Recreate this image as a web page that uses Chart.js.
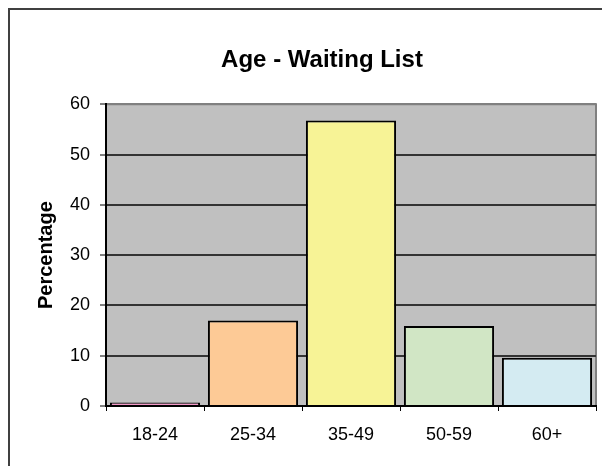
<!DOCTYPE html>
<html>
<head>
<meta charset="utf-8">
<script src="https://cdn.jsdelivr.net/npm/chart.js@4/dist/chart.umd.min.js"></script>
<style>
  html, body { margin: 0; padding: 0; background: #fff; }
  #wrap { width: 602px; height: 466px; }
</style>
</head>
<body>
<div id="wrap"><canvas id="chart" width="602" height="466"></canvas></div>
<script>
// Age groups on the waiting list
const categories = ['18-24', '25-34', '35-49', '50-59', '60+'];
// percentage of waiting list in each group
const percentages = [0.7, 17, 56.8, 15.9, 9.6];
const barColors = ['#f49ac8', '#fdca96', '#f7f396', '#d1e6c5', '#d4ebf2'];
const yTicks = [0, 10, 20, 30, 40, 50, 60];

const FONT = '"Liberation Sans", Arial, sans-serif';

// grey plot area + outer frame, like the old spreadsheet chart
const backdrop = {
  id: 'backdrop',
  beforeDraw(chart) {
    const { ctx, chartArea: a } = chart;
    ctx.save();
    ctx.strokeStyle = '#404040';
    ctx.lineWidth = 2;
    ctx.strokeRect(9, 9, 800, 700);
    ctx.fillStyle = '#c0c0c0';
    ctx.fillRect(a.left, a.top, a.right - a.left, a.bottom - a.top);
    ctx.strokeStyle = '#808080';
    ctx.lineWidth = 2;
    ctx.beginPath();
    ctx.moveTo(a.left, a.top);
    ctx.lineTo(a.right, a.top);
    ctx.lineTo(a.right, a.bottom);
    ctx.stroke();
    ctx.restore();
  }
};

const config = {
  type: 'bar',
  data: {
    labels: categories,
    datasets: [{
      label: 'Percentage',
      data: percentages,
      backgroundColor: barColors,
      borderColor: '#000',
      borderWidth: 2,
      barPercentage: 0.92,
      categoryPercentage: 1
    }]
  },
  options: {
    responsive: false,
    animation: false,
    // left padding shifts the title centre to where the original has it
    layout: { padding: { left: 48, right: 6, top: 0, bottom: 0 } },
    plugins: {
      legend: { display: false },
      tooltip: { enabled: false },
      title: {
        display: true,
        text: 'Age - Waiting List',
        color: '#000',
        font: { family: FONT, size: 24, weight: 'bold', lineHeight: 1.2 },
        padding: { top: 46, bottom: 29.5 }
      }
    },
    scales: {
      x: {
        offset: true,
        grid: {
          offset: true,
          drawOnChartArea: false,
          drawTicks: true,
          tickLength: 5,
          color: '#000',
          lineWidth: 1
        },
        border: { color: '#000', width: 2 },
        ticks: {
          color: '#000',
          font: { family: FONT, size: 18 },
          padding: 13,
          maxRotation: 0
        },
        afterFit(scale) { scale.height = 60; }
      },
      y: {
        min: 0,
        max: 60,
        afterBuildTicks(scale) { scale.ticks = yTicks.map(v => ({ value: v })); },
        grid: {
          color: ctx => ctx.tick && ctx.tick.value === 60 ? '#808080' : '#333',
          lineWidth: 2,
          drawTicks: true,
          tickLength: 6,
          tickColor: '#000',
          tickWidth: 1
        },
        border: { color: '#000', width: 2 },
        ticks: {
          color: '#000',
          font: { family: FONT, size: 18 },
          padding: 10
        },
        title: {
          display: true,
          text: 'Percentage',
          color: '#000',
          font: { family: FONT, size: 20, weight: 'bold', lineHeight: 1.2 },
          padding: { top: -14, bottom: 0 }
        },
        afterFit(scale) { scale.width = 58; }
      }
    }
  },
  plugins: [backdrop]
};

new Chart(document.getElementById('chart'), config);
</script>
</body>
</html>
